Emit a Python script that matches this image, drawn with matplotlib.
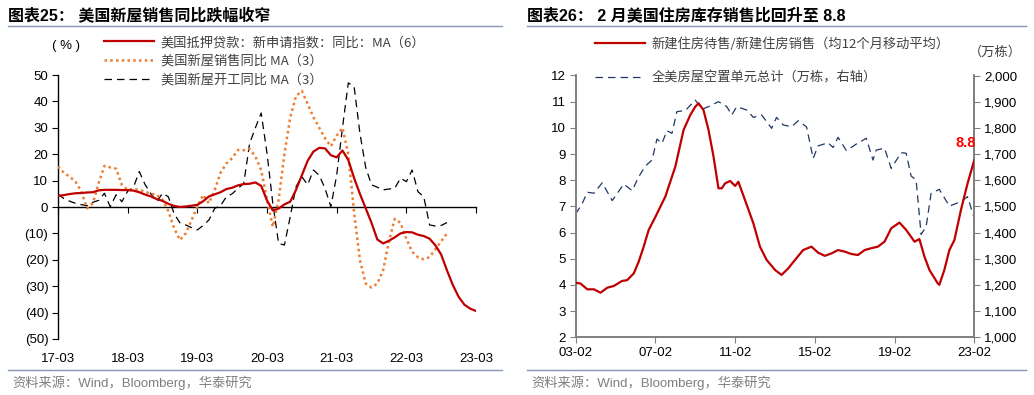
import matplotlib
matplotlib.use('Agg')
import matplotlib.pyplot as plt
from matplotlib.ticker import FuncFormatter
import numpy as np
import pandas as pd

plt.rcParams['font.family'] = ['Liberation Sans', 'Noto Sans CJK SC']

# 图表25: monthly, 2017-03 onwards (%)
mortgage_yoy = [4.2, 4.5, 4.9, 5.2, 5.3, 5.5, 5.6, 6.3, 6.5, 6.5, 6.5, 6.4, 6.4, 6.2,
                5.6, 4.7, 4.0, 3.0, 2.3, 1.2, 0.4, 0.0, 0.2, 0.5, 0.8, 2.2, 4.0, 4.8,
                5.6, 6.8, 7.3, 8.2, 8.7, 8.8, 9.3, 8.0, 2.5, -1.3, -0.6, 1.0, 2.0, 6.5,
                12.0, 17.5, 21.0, 22.4, 22.2, 19.6, 18.8, 21.4, 17.8, 11.0, 5.0, -0.5,
                -6.0, -12.3, -13.8, -12.8, -11.5, -10.0, -9.5, -9.6, -10.5, -11.0, -12.0,
                -14.5, -18.0, -24.0, -29.5, -34.0, -37.0, -38.5, -39.4]
sales_yoy = [15.3, 13.0, 11.5, 9.6, 6.0, -0.5, 1.4, 9.0, 15.6, 15.0, 14.5, 8.4, 6.5,
             6.8, 6.5, 5.8, 5.0, 4.6, 2.7, -1.5, -8.0, -12.5, -10.0, -5.0, 0.1, 4.6,
             1.4, 6.5, 13.0, 16.5, 18.5, 21.6, 21.5, 22.0, 19.1, 14.0, 2.7, -7.5, 2.7,
             20.0, 34.0, 42.0, 44.0, 39.0, 34.0, 30.0, 26.0, 23.0, 27.0, 30.0, 20.0,
             -2.0, -20.0, -29.0, -30.5, -29.0, -24.0, -13.0, -4.5, -6.0, -12.0, -17.0,
             -19.0, -19.8, -19.0, -16.0, -13.0, -10.0]
starts_yoy = [4.9, 3.2, 2.2, 1.4, 0.9, 0.5, 1.8, 2.5, 5.2, 0.1, 4.6, 2.0, 6.0, 7.5,
              13.4, 8.5, 5.0, 2.0, 5.2, 3.9, -2.5, -6.0, -6.8, -7.8, -8.7, -7.0, -4.9,
              -0.5, 0.5, 3.9, 5.0, 7.0, 9.0, 24.0, 30.0, 35.6, 20.4, 1.4, -13.8, -14.4,
              -3.7, 7.7, 11.5, 8.4, 14.0, 12.0, 7.0, 0.1, 12.0, 30.0, 47.0, 45.7, 28.0,
              15.0, 8.4, 7.5, 6.5, 6.8, 7.1, 10.9, 9.6, 14.0, 5.8, 3.9, -6.8, -7.2,
              -7.0, -5.9]
left_labels = ['17-03', '18-03', '19-03', '20-03', '21-03', '22-03', '23-03']
left_names = ['美国抵押贷款：新申请指数：同比：MA（6）', '美国新屋销售同比 MA（3）',
              '美国新屋开工同比 MA（3）']

# 图表26
ratio_dates = ['2003-02', '2003-05', '2003-09', '2004-01', '2004-05', '2004-09', '2005-01',
               '2005-06', '2005-09', '2006-01', '2006-04', '2006-07', '2006-10', '2007-02',
               '2007-08', '2008-02', '2008-07', '2008-11', '2009-02', '2009-04', '2009-07',
               '2009-10', '2010-01', '2010-04', '2010-06', '2010-08', '2010-11', '2011-02',
               '2011-04', '2011-08', '2012-01', '2012-05', '2012-09', '2013-02', '2013-06',
               '2013-10', '2014-02', '2014-07', '2014-12', '2015-04', '2015-08', '2015-12',
               '2016-04', '2016-08', '2016-12', '2017-04', '2017-08', '2017-12', '2018-04',
               '2018-08', '2018-12', '2019-05', '2019-09', '2020-02', '2020-05', '2020-08',
               '2020-11', '2021-04', '2021-05', '2021-08', '2021-11', '2022-02', '2022-06',
               '2022-10', '2023-02']
inv_sales_ratio = [4.08, 4.05, 3.83, 3.83, 3.70, 3.89, 3.96, 4.15, 4.18, 4.44, 4.89, 5.46,
                   6.10, 6.60, 7.37, 8.52, 9.92, 10.49, 10.81, 10.94, 10.68, 9.92, 8.90,
                   7.69, 7.69, 7.88, 7.97, 7.78, 7.94, 7.24, 6.35, 5.46, 4.95, 4.57, 4.38,
                   4.63, 4.95, 5.33, 5.46, 5.23, 5.11, 5.20, 5.33, 5.27, 5.18, 5.14, 5.33,
                   5.40, 5.46, 5.65, 6.16, 6.38, 6.10, 5.65, 5.75, 5.08, 4.57, 4.06, 4.00,
                   4.57, 5.33, 5.71, 6.86, 7.88, 8.77]
vacant_dates = ['2003-02', '2003-06', '2003-09', '2004-01', '2004-06', '2004-12', '2005-07',
                '2005-12', '2006-04', '2006-08', '2006-12', '2007-03', '2007-06', '2007-09',
                '2007-12', '2008-03', '2008-08', '2009-02', '2009-06', '2009-10', '2010-04',
                '2010-09', '2010-12', '2011-03', '2011-09', '2012-01', '2012-06', '2012-12',
                '2013-03', '2013-07', '2013-12', '2014-04', '2014-09', '2015-01', '2015-04',
                '2015-10', '2016-01', '2016-04', '2016-09', '2017-03', '2017-09', '2018-01',
                '2018-03', '2018-08', '2018-12', '2019-06', '2019-09', '2019-12', '2020-03',
                '2020-06', '2020-09', '2020-12', '2021-05', '2021-11', '2022-06', '2022-10',
                '2023-02']
vacant_units = [1471, 1511, 1554, 1550, 1590, 1522, 1585, 1560, 1613, 1654, 1677, 1757,
                1741, 1789, 1779, 1862, 1866, 1906, 1871, 1881, 1900, 1881, 1849, 1881,
                1868, 1840, 1849, 1798, 1840, 1811, 1804, 1827, 1804, 1683, 1731, 1743,
                1725, 1764, 1713, 1738, 1760, 1677, 1715, 1722, 1645, 1705, 1703, 1616,
                1601, 1393, 1422, 1550, 1565, 1501, 1518, 1537, 1454]
right_labels = ['03-02', '07-02', '11-02', '15-02', '19-02', '23-02']
right_names = ['新建住房待售/新建住房销售（均12个月移动平均）', '全美房屋空置单元总计（万栋，右轴）']

RED = '#C00000'
ORANGE = '#ED7D31'
NAVY = '#1F3864'
RULE = '#8497B0'
TXT = '#404040'
FS = 9.5

fig = plt.figure(figsize=(10.34, 3.95), dpi=100)

# headers / footers
fig.text(8 / 1034, 1 - 15 / 395, '图表25： 美国新屋销售同比跌幅收窄', fontsize=11.5,
         fontweight='bold', va='center')
fig.text(527 / 1034, 1 - 15 / 395, '图表26： 2 月美国住房库存销售比回升至 8.8', fontsize=11.5,
         fontweight='bold', va='center')
for x0, x1 in [(8, 502), (527, 1026)]:
    fig.add_artist(plt.Line2D([x0 / 1034, x1 / 1034], [1 - 26 / 395] * 2, color=RULE, lw=1))
    fig.add_artist(plt.Line2D([x0 / 1034, x1 / 1034], [1 - 370 / 395] * 2, color=RULE, lw=1))
    fig.text((x0 + 4) / 1034, 1 - 383 / 395, '资料来源：Wind，Bloomberg，华泰研究',
             fontsize=9.5, color='#7F7F7F', va='center')

# ---- left chart
ax1 = fig.add_axes([58 / 1034, 1 - 339 / 395, 418 / 1034, 264 / 395])
x = np.arange(len(mortgage_yoy))
ax1.plot(x, mortgage_yoy, color=RED, lw=1.6, label=left_names[0], zorder=4)
ax1.plot(np.arange(len(sales_yoy)), sales_yoy, color=ORANGE, lw=1.8, ls=(0, (1, 1.3)),
         label=left_names[1], zorder=3)
ax1.plot(np.arange(len(starts_yoy)), starts_yoy, color='black', lw=0.9, ls=(0, (6, 4)),
         label=left_names[2], zorder=2)
ax1.set_xlim(0, 72)
ax1.set_ylim(-50, 50)
yt = np.arange(-50, 51, 10)
ax1.set_yticks(yt, [f'({-v})' if v < 0 else str(v) for v in yt])
ax1.spines['top'].set_visible(False)
ax1.spines['right'].set_visible(False)
ax1.spines['bottom'].set_position(('data', 0))
ax1.spines['left'].set_linewidth(1.0)
ax1.spines['bottom'].set_linewidth(1.0)
ax1.set_xticks(np.arange(0, 73, 12))
ax1.tick_params(axis='x', direction='out', length=4, labelbottom=False)
ax1.tick_params(axis='y', direction='out', length=4, labelsize=FS, pad=3)
sec = ax1.secondary_xaxis('bottom')
sec.set_xticks(np.arange(0, 73, 12), left_labels)
sec.tick_params(length=0, labelsize=FS, pad=10)
sec.spines['bottom'].set_visible(False)
ax1.patch.set_alpha(0)
fig.text(66 / 1034, 1 - 46 / 395, '( % )', fontsize=FS, ha='center', va='center')
ax1.legend(loc='upper left', bbox_to_anchor=(104 / 1034, 1 - 36 / 395),
           bbox_transform=fig.transFigure, frameon=False, handlelength=3.8,
           handletextpad=0.5, labelspacing=0.45, borderpad=0, borderaxespad=0,
           labelcolor=TXT, prop={'family': ['Noto Sans CJK SC'], 'size': FS})

# ---- right chart
ax2 = fig.add_axes([575.7 / 1034, 1 - 337.2 / 395, 398.6 / 1034, 261.7 / 395])
ax3 = ax2.twinx()
rd = pd.to_datetime(ratio_dates)
vd = pd.to_datetime(vacant_dates)
l1, = ax2.plot(rd, inv_sales_ratio, color=RED, lw=1.6, zorder=4)
l2, = ax3.plot(vd, vacant_units, color=NAVY, lw=0.9, ls=(0, (6, 4)))
ax2.set_zorder(ax3.get_zorder() + 1)
ax2.patch.set_visible(False)
ax2.set_xlim(pd.Timestamp('2003-02-01'), pd.Timestamp('2023-02-01'))
ax2.set_ylim(2, 12)
ax3.set_ylim(1000, 2000)
ax2.set_yticks(np.arange(2, 13, 1))
ax3.set_yticks(np.arange(1000, 2001, 100))
ax3.yaxis.set_major_formatter(FuncFormatter(lambda v, p: f'{v:,.0f}'))
ax2.set_xticks(pd.to_datetime(['2003-02', '2007-02', '2011-02', '2015-02', '2019-02', '2023-02']),
               right_labels)
for a in (ax2, ax3):
    a.spines['top'].set_visible(False)
    for s in ('left', 'right', 'bottom'):
        a.spines[s].set_color('#808080')
        a.spines[s].set_linewidth(1.3)
    a.tick_params(direction='out', length=4, labelsize=FS, color='#808080', pad=3)
ax2.annotate('8.8', (rd[-1], inv_sales_ratio[-1]), xytext=(-6, 12),
             textcoords='offset points', color='#FF0000', fontweight='bold',
             fontsize=10.5, ha='center', va='center')
fig.text(995 / 1034, 1 - 52 / 395, '（万栋）', fontsize=FS, ha='center', va='center',
         color=TXT, family=['Noto Sans CJK SC'])
ax2.legend([l1, l2], right_names, loc='upper left', bbox_to_anchor=(595 / 1034, 1 - 37 / 395),
           bbox_transform=fig.transFigure, frameon=False, handlelength=3.8,
           handletextpad=0.5, labelspacing=1.6, borderpad=0, borderaxespad=0,
           labelcolor=TXT, prop={'family': ['Noto Sans CJK SC'], 'size': FS})

fig.savefig('out.png', dpi=100)
